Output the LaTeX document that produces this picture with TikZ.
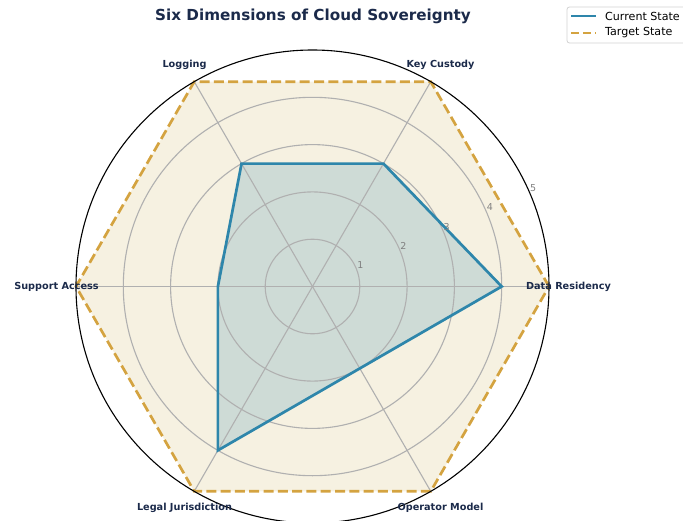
\documentclass[tikz,border=0pt]{standalone}
\usepackage{fontspec}
\setmainfont{DejaVu Sans}
\definecolor{navy}{HTML}{1B2A4A}
\definecolor{cur}{HTML}{2E86AB}
\definecolor{tgt}{HTML}{D4A340}
\definecolor{tgtfill}{HTML}{F6F1E1}
\definecolor{gridc}{HTML}{B0B0B0}
\definecolor{tickc}{HTML}{808080}
\tikzset{
  axlab/.style={font=\bfseries\fontsize{9.7}{11}\selectfont, text=navy, inner sep=0pt},
  ticklab/.style={font=\fontsize{9.5}{11}\selectfont, text=tickc, inner sep=0pt},
  gridline/.style={draw=gridc, line width=1.1pt},
  curline/.style={draw=cur, line width=2.7pt, line join=miter},
  tgtline/.style={draw=tgt, line width=2.7pt, dash pattern=on 10pt off 4.3pt},
  legtext/.style={font=\fontsize{11.1}{13}\selectfont, anchor=west, inner sep=0pt},
}
\begin{document}
\begin{tikzpicture}[x=1pt,y=1pt]
\useasboundingbox (-312.5,-233.5) rectangle (370.5,286.5);
\def\u{47.3}
\coordinate (o) at (0,0);
% target points
\foreach \a [count=\i] in {0,60,120,180,240,300} {
  \coordinate (t\i) at (\a:{5*\u});
}
% current points: 4,3,3,2,4,2
\coordinate (c1) at (0:{4*\u});
\coordinate (c2) at (60:{3*\u});
\coordinate (c3) at (120:{3*\u});
\coordinate (c4) at (180:{2*\u});
\coordinate (c5) at (240:{4*\u});
\coordinate (c6) at (300:{2*\u});
% fills
\fill[tgtfill] (t1) -- (t2) -- (t3) -- (t4) -- (t5) -- (t6) -- cycle;
\fill[cur, opacity=0.2] (c1) -- (c2) -- (c3) -- (c4) -- (c5) -- (c6) -- cycle;
% grid
\foreach \r in {1,2,3,4} { \draw[gridline] (o) circle ({\r*\u}); }
\foreach \i in {1,...,6} { \draw[gridline] (o) -- (t\i); }
% lines
\draw[tgtline] (t1) -- (t2) -- (t3) -- (t4) -- (t5) -- (t6) -- cycle;
\draw[curline] (c1) -- (c2) -- (c3) -- (c4) -- (c5) -- (c6) -- cycle;
% outer circle
\draw[black, line width=1.1pt] (o) circle ({5*\u});
% tick labels
\foreach \r in {1,...,5} { \node[ticklab] (tk\r) at (24:{\r*\u+5}) {\r}; }
% axis labels
\node[axlab] (dr) at (0:256) {Data Residency};
\node[axlab] (kc) at (60:256) {Key Custody};
\node[axlab] (lg) at (120:256) {Logging};
\node[axlab] (sa) at (180:256) {Support Access};
\node[axlab] (lj) at (240:256) {Legal Jurisdiction};
\node[axlab] (om) at (300:256) {Operator Model};
% title
\node[font=\bfseries\fontsize{15.2}{18}\selectfont, text=navy] (title) at (0.5,270.5) {Six Dimensions of Cloud Sovereignty};
% legend
\draw[draw=gray!35, fill=white, rounded corners=2.5pt, line width=0.8pt] (254.5,243.5) rectangle (395,279.5);
\coordinate (l1a) at (258.5,270.5); \coordinate (l1b) at (283.5,270.5);
\coordinate (l2a) at (258.5,253.5); \coordinate (l2b) at (283.5,253.5);
\draw[draw=cur, line width=2.2pt] (l1a) -- (l1b);
\draw[draw=tgt, line width=2.2pt, dash pattern=on 8pt off 4pt] (l2a) -- (l2b);
\node[legtext] (lt1) at (292.5,270.5) {Current State};
\node[legtext] (lt2) at (292.5,253.5) {Target State};
\end{tikzpicture}
\end{document}
